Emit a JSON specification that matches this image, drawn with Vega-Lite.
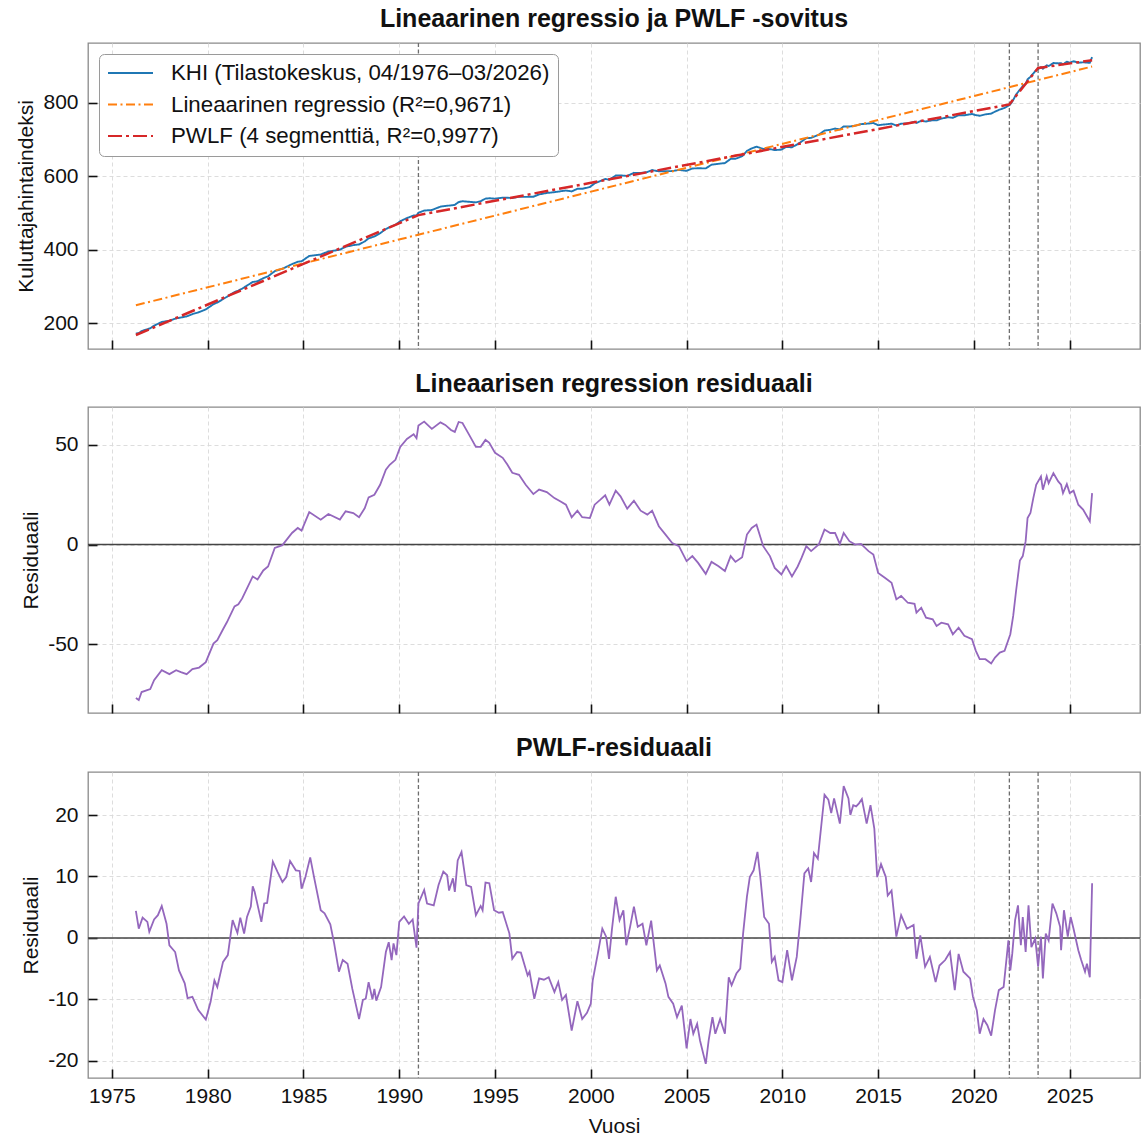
{
 "$schema": "https://vega.github.io/schema/vega-lite/v6.json",
 "padding": {"left": 15, "top": 6, "right": 2, "bottom": 2},
 "background": "white",
 "spacing": 20,
 "config": {
  "font": "Liberation Sans",
  "view": {"stroke": "#8a8a8a", "strokeWidth": 1.3},
  "axis": {"domain": false, "labelFontSize": 21, "titleFontSize": 21, "titleFontWeight": "normal", "labelColor": "#111", "titleColor": "#111", "tickColor": "#111", "tickWidth": 1.6, "tickSize": -9, "labelPadding": 19, "gridColor": "#d9d9d9", "gridDash": [4, 3], "gridWidth": 0.9},
  "axisY": {"titlePadding": 6},
  "axisX": {"titlePadding": 9, "labelPadding": 16},
  "title": {"fontSize": 25, "fontWeight": "bold", "color": "#111", "offset": 10, "anchor": "middle"},
  "legend": {"orient": "top-left", "offset": 11, "symbolType": "stroke", "symbolSize": 2025, "clipHeight": 22, "rowPadding": 8.5, "labelOffset": 17, "labelFontSize": 22.3, "labelColor": "#111", "padding": 8, "fillColor": "white", "strokeColor": "#9a9a9a", "cornerRadius": 5, "symbolStrokeWidth": 2, "labelLimit": 0}
 },
 "datasets": {
  "bp": [{"t": 1991.0}, {"t": 2021.85}, {"t": 2023.35}],
  "lr": [{"t": 1976.25, "v": 249}, {"t": 2026.17, "v": 898}],
  "pf": [{"t": 1976.25, "v": 168}, {"t": 1991.0, "v": 494}, {"t": 2021.85, "v": 795}, {"t": 2023.35, "v": 894}, {"t": 2026.17, "v": 915}],
  "khi": [{"t":1976.25,"v":172},{"t":1976.4,"v":173},{"t":1976.55,"v":178.9},{"t":1977.0,"v":186.3},{"t":1977.2,"v":193.4},{"t":1977.6,"v":203.6},{"t":1978.0,"v":206.8},{"t":1978.35,"v":213.3},{"t":1978.6,"v":215.6},{"t":1978.9,"v":218.5},{"t":1979.2,"v":224.9},{"t":1979.55,"v":230.2},{"t":1979.9,"v":237.5},{"t":1980.3,"v":252},{"t":1980.5,"v":256.3},{"t":1980.8,"v":265.7},{"t":1981.0,"v":271.8},{"t":1981.4,"v":285},{"t":1981.6,"v":288.6},{"t":1981.8,"v":294.2},{"t":1982.0,"v":300.8},{"t":1982.35,"v":312.3},{"t":1982.6,"v":314.1},{"t":1982.9,"v":322.5},{"t":1983.15,"v":327.7},{"t":1983.5,"v":341.6},{"t":1983.9,"v":348.2},{"t":1984.4,"v":360.8},{"t":1984.7,"v":367.2},{"t":1984.9,"v":368.5},{"t":1985.3,"v":383},{"t":1985.9,"v":387},{"t":1986.3,"v":395},{"t":1986.9,"v":400},{"t":1987.2,"v":408},{"t":1987.6,"v":412.4},{"t":1987.9,"v":414.2},{"t":1988.2,"v":422.7},{"t":1988.4,"v":430.7},{"t":1988.7,"v":435.9},{"t":1989.0,"v":444.8},{"t":1989.3,"v":456.2},{"t":1989.5,"v":461.3},{"t":1989.8,"v":467.7},{"t":1990.05,"v":477.4},{"t":1990.4,"v":486},{"t":1990.75,"v":492.8},{"t":1990.9,"v":492.8},{"t":1991.0,"v":500.5},{"t":1991.3,"v":506.4},{"t":1991.7,"v":507.9},{"t":1992.15,"v":517},{"t":1992.4,"v":519},{"t":1992.7,"v":520.4},{"t":1992.9,"v":522},{"t":1993.1,"v":529.6},{"t":1993.3,"v":531.7},{"t":1993.65,"v":530.2},{"t":1994.0,"v":528.8},{"t":1994.25,"v":532},{"t":1994.5,"v":538.8},{"t":1994.7,"v":539.9},{"t":1995.0,"v":538.8},{"t":1995.4,"v":541.5},{"t":1995.65,"v":541.2},{"t":1995.9,"v":540.5},{"t":1996.25,"v":544},{"t":1996.6,"v":543.6},{"t":1997.0,"v":544},{"t":1997.3,"v":550.3},{"t":1997.7,"v":554.2},{"t":1998.1,"v":556.4},{"t":1998.4,"v":558.7},{"t":1998.7,"v":560.9},{"t":1999.0,"v":558.5},{"t":1999.3,"v":565.7},{"t":1999.55,"v":565.6},{"t":1999.95,"v":570.4},{"t":2000.2,"v":580.4},{"t":2000.5,"v":586.8},{"t":2000.75,"v":592.2},{"t":2000.97,"v":590.4},{"t":2001.3,"v":601.7},{"t":2001.55,"v":602.1},{"t":2001.9,"v":600.5},{"t":2002.25,"v":609},{"t":2002.6,"v":608.6},{"t":2002.95,"v":611.1},{"t":2003.2,"v":616.4},{"t":2003.55,"v":613.1},{"t":2003.9,"v":613.5},{"t":2004.25,"v":613.8},{"t":2004.6,"v":616.8},{"t":2005.0,"v":614.5},{"t":2005.3,"v":620.9},{"t":2005.6,"v":621.4},{"t":2006.0,"v":621.1},{"t":2006.3,"v":631},{"t":2006.65,"v":633.4},{"t":2007.0,"v":635.5},{"t":2007.3,"v":646.9},{"t":2007.55,"v":647.2},{"t":2007.9,"v":654.2},{"t":2008.15,"v":668.7},{"t":2008.4,"v":675.3},{"t":2008.65,"v":680.2},{"t":2009.0,"v":674},{"t":2009.35,"v":673.5},{"t":2009.6,"v":670.9},{"t":2009.95,"v":672.1},{"t":2010.2,"v":679.6},{"t":2010.5,"v":678.3},{"t":2010.8,"v":687.2},{"t":2011.0,"v":694},{"t":2011.25,"v":703.2},{"t":2011.5,"v":704},{"t":2011.9,"v":712.5},{"t":2012.2,"v":723.9},{"t":2012.5,"v":726},{"t":2012.75,"v":729.3},{"t":2013.0,"v":727},{"t":2013.2,"v":735.2},{"t":2013.5,"v":735},{"t":2013.8,"v":737.2},{"t":2014.1,"v":741.4},{"t":2014.5,"v":743},{"t":2014.75,"v":744.5},{"t":2015.0,"v":738.6},{"t":2015.35,"v":740.6},{"t":2015.7,"v":742.7},{"t":2015.95,"v":737.6},{"t":2016.2,"v":742.6},{"t":2016.55,"v":743.7},{"t":2016.9,"v":747.8},{"t":2017.0,"v":744.6},{"t":2017.25,"v":750.3},{"t":2017.5,"v":748.6},{"t":2017.85,"v":752.3},{"t":2018.05,"v":751.6},{"t":2018.3,"v":756.5},{"t":2018.65,"v":760.2},{"t":2018.9,"v":758.5},{"t":2019.2,"v":765.7},{"t":2019.5,"v":765.5},{"t":2019.9,"v":769},{"t":2020.1,"v":765.8},{"t":2020.3,"v":764.2},{"t":2020.6,"v":768.1},{"t":2020.9,"v":769.8},{"t":2021.1,"v":775.4},{"t":2021.35,"v":781.1},{"t":2021.6,"v":785.3},{"t":2021.9,"v":795},{"t":2022.05,"v":807},{"t":2022.2,"v":822},{"t":2022.4,"v":835},{"t":2022.55,"v":845},{"t":2022.7,"v":851},{"t":2022.8,"v":863},{"t":2022.95,"v":870},{"t":2023.1,"v":879},{"t":2023.25,"v":888},{"t":2023.5,"v":896},{"t":2023.6,"v":892},{"t":2023.8,"v":901.4},{"t":2023.9,"v":899.3},{"t":2024.15,"v":907.5},{"t":2024.4,"v":906.7},{"t":2024.55,"v":906.9},{"t":2024.65,"v":904},{"t":2024.85,"v":911.1},{"t":2025.0,"v":908.6},{"t":2025.2,"v":912.4},{"t":2025.45,"v":908.6},{"t":2025.7,"v":909.4},{"t":2025.9,"v":908.7},{"t":2026.05,"v":908.1},{"t":2026.17,"v":923.8}],
  "lin": [{"t":1976.25,"v":-77},{"t":1976.4,"v":-78},{"t":1976.55,"v":-74},{"t":1977.0,"v":-72.5},{"t":1977.2,"v":-68},{"t":1977.6,"v":-63},{"t":1978.0,"v":-65},{"t":1978.35,"v":-63},{"t":1978.6,"v":-64},{"t":1978.9,"v":-65},{"t":1979.2,"v":-62.5},{"t":1979.55,"v":-61.7},{"t":1979.9,"v":-59},{"t":1980.3,"v":-49.7},{"t":1980.5,"v":-48},{"t":1980.8,"v":-42.5},{"t":1981.0,"v":-39},{"t":1981.4,"v":-31},{"t":1981.6,"v":-30},{"t":1981.8,"v":-27},{"t":1982.0,"v":-23},{"t":1982.35,"v":-16},{"t":1982.6,"v":-17.5},{"t":1982.9,"v":-13},{"t":1983.15,"v":-11},{"t":1983.5,"v":-1.7},{"t":1983.9,"v":-0.3},{"t":1984.4,"v":5.8},{"t":1984.7,"v":8.3},{"t":1984.9,"v":7},{"t":1985.3,"v":16.3},{"t":1985.9,"v":12.5},{"t":1986.3,"v":15.3},{"t":1986.9,"v":12.5},{"t":1987.2,"v":16.7},{"t":1987.6,"v":15.8},{"t":1987.9,"v":13.7},{"t":1988.2,"v":18.3},{"t":1988.4,"v":23.7},{"t":1988.7,"v":25},{"t":1989.0,"v":30},{"t":1989.3,"v":37.5},{"t":1989.5,"v":40},{"t":1989.8,"v":42.5},{"t":1990.05,"v":49},{"t":1990.4,"v":53},{"t":1990.75,"v":55.3},{"t":1990.9,"v":53.3},{"t":1991.0,"v":59.7},{"t":1991.3,"v":61.7},{"t":1991.7,"v":58},{"t":1992.15,"v":61.3},{"t":1992.4,"v":60},{"t":1992.7,"v":57.5},{"t":1992.9,"v":56.5},{"t":1993.1,"v":61.5},{"t":1993.3,"v":61},{"t":1993.65,"v":55},{"t":1994.0,"v":49},{"t":1994.25,"v":49},{"t":1994.5,"v":52.5},{"t":1994.7,"v":51},{"t":1995.0,"v":46},{"t":1995.4,"v":43.5},{"t":1995.65,"v":40},{"t":1995.9,"v":36},{"t":1996.25,"v":35},{"t":1996.6,"v":30},{"t":1997.0,"v":25.3},{"t":1997.3,"v":27.6},{"t":1997.7,"v":26.3},{"t":1998.1,"v":23.3},{"t":1998.4,"v":21.7},{"t":1998.7,"v":20},{"t":1999.0,"v":13.7},{"t":1999.3,"v":17},{"t":1999.55,"v":13.7},{"t":1999.95,"v":13.3},{"t":2000.2,"v":20},{"t":2000.5,"v":22.5},{"t":2000.75,"v":24.7},{"t":2000.97,"v":20},{"t":2001.3,"v":27},{"t":2001.55,"v":24.2},{"t":2001.9,"v":18},{"t":2002.25,"v":22},{"t":2002.6,"v":17},{"t":2002.95,"v":15},{"t":2003.2,"v":17},{"t":2003.55,"v":9.2},{"t":2003.9,"v":5},{"t":2004.25,"v":0.8},{"t":2004.6,"v":-0.8},{"t":2005.0,"v":-8.3},{"t":2005.3,"v":-5.8},{"t":2005.6,"v":-9.2},{"t":2006.0,"v":-14.7},{"t":2006.3,"v":-8.7},{"t":2006.65,"v":-10.8},{"t":2007.0,"v":-13.3},{"t":2007.3,"v":-5.8},{"t":2007.55,"v":-8.7},{"t":2007.9,"v":-6.3},{"t":2008.15,"v":5},{"t":2008.4,"v":8.3},{"t":2008.65,"v":10},{"t":2009.0,"v":-0.8},{"t":2009.35,"v":-5.8},{"t":2009.6,"v":-11.7},{"t":2009.95,"v":-15},{"t":2010.2,"v":-10.8},{"t":2010.5,"v":-16},{"t":2010.8,"v":-11},{"t":2011.0,"v":-6.7},{"t":2011.25,"v":-0.8},{"t":2011.5,"v":-3.3},{"t":2011.9,"v":0},{"t":2012.2,"v":7.5},{"t":2012.5,"v":5.8},{"t":2012.75,"v":5.8},{"t":2013.0,"v":0.3},{"t":2013.2,"v":5.8},{"t":2013.5,"v":1.7},{"t":2013.8,"v":0},{"t":2014.1,"v":0.3},{"t":2014.5,"v":-3.3},{"t":2014.75,"v":-5},{"t":2015.0,"v":-14.2},{"t":2015.35,"v":-16.7},{"t":2015.7,"v":-19.2},{"t":2015.95,"v":-27.5},{"t":2016.2,"v":-25.8},{"t":2016.55,"v":-29.2},{"t":2016.9,"v":-29.7},{"t":2017.0,"v":-34.2},{"t":2017.25,"v":-31.7},{"t":2017.5,"v":-36.7},{"t":2017.85,"v":-37.5},{"t":2018.05,"v":-40.8},{"t":2018.3,"v":-39.2},{"t":2018.65,"v":-40},{"t":2018.9,"v":-45},{"t":2019.2,"v":-41.7},{"t":2019.5,"v":-45.8},{"t":2019.9,"v":-47.5},{"t":2020.1,"v":-53.3},{"t":2020.3,"v":-57.5},{"t":2020.6,"v":-57.5},{"t":2020.9,"v":-59.7},{"t":2021.1,"v":-56.7},{"t":2021.35,"v":-54.2},{"t":2021.6,"v":-53.3},{"t":2021.9,"v":-45},{"t":2022.05,"v":-35.8},{"t":2022.2,"v":-23.3},{"t":2022.4,"v":-8},{"t":2022.55,"v":-5.8},{"t":2022.7,"v":1.7},{"t":2022.8,"v":13.3},{"t":2022.95,"v":15.8},{"t":2023.1,"v":23.3},{"t":2023.25,"v":30},{"t":2023.5,"v":34.2},{"t":2023.6,"v":27.5},{"t":2023.8,"v":34.2},{"t":2023.9,"v":30.8},{"t":2024.15,"v":35.8},{"t":2024.4,"v":31.7},{"t":2024.55,"v":30},{"t":2024.65,"v":25.8},{"t":2024.85,"v":30.3},{"t":2025.0,"v":25.8},{"t":2025.2,"v":27},{"t":2025.45,"v":20},{"t":2025.7,"v":17.5},{"t":2025.9,"v":14.2},{"t":2026.05,"v":11.7},{"t":2026.17,"v":25.8}],
  "pw": [{"t":1976.25,"v":4.4},{"t":1976.4,"v":1.5},{"t":1976.6,"v":3.3},{"t":1976.85,"v":2.6},{"t":1976.95,"v":1},{"t":1977.2,"v":3},{"t":1977.4,"v":3.7},{"t":1977.6,"v":5.2},{"t":1977.85,"v":2.3},{"t":1978.0,"v":-1.2},{"t":1978.3,"v":-2.3},{"t":1978.5,"v":-5.3},{"t":1978.8,"v":-7.4},{"t":1978.95,"v":-9.8},{"t":1979.2,"v":-9.6},{"t":1979.5,"v":-11.7},{"t":1979.9,"v":-13.3},{"t":1980.15,"v":-10.4},{"t":1980.35,"v":-6.9},{"t":1980.5,"v":-8},{"t":1980.8,"v":-3.9},{"t":1981.05,"v":-2.8},{"t":1981.3,"v":2.9},{"t":1981.55,"v":0.8},{"t":1981.7,"v":3.3},{"t":1981.9,"v":0.7},{"t":1982.05,"v":3.4},{"t":1982.25,"v":5.1},{"t":1982.35,"v":8.4},{"t":1982.45,"v":7.5},{"t":1982.8,"v":2.6},{"t":1982.95,"v":5.6},{"t":1983.1,"v":5.7},{"t":1983.4,"v":12.4},{"t":1983.65,"v":10.7},{"t":1983.9,"v":9.1},{"t":1984.1,"v":9.9},{"t":1984.3,"v":12.5},{"t":1984.6,"v":11},{"t":1984.8,"v":10.9},{"t":1984.9,"v":8},{"t":1985.1,"v":9.9},{"t":1985.35,"v":13.1},{"t":1985.55,"v":9.9},{"t":1985.9,"v":4.5},{"t":1986.1,"v":4},{"t":1986.4,"v":2.2},{"t":1986.6,"v":-0.9},{"t":1986.85,"v":-5.5},{"t":1987.05,"v":-3.6},{"t":1987.3,"v":-4.2},{"t":1987.55,"v":-8.3},{"t":1987.9,"v":-13.2},{"t":1988.1,"v":-10.1},{"t":1988.25,"v":-9.9},{"t":1988.4,"v":-7.2},{"t":1988.6,"v":-10},{"t":1988.7,"v":-8.3},{"t":1988.8,"v":-10.2},{"t":1989.05,"v":-8},{"t":1989.3,"v":-2.3},{"t":1989.45,"v":-0.7},{"t":1989.6,"v":-3.6},{"t":1989.7,"v":-0.9},{"t":1989.85,"v":-2.8},{"t":1990.0,"v":2.6},{"t":1990.25,"v":3.5},{"t":1990.5,"v":2.3},{"t":1990.7,"v":3},{"t":1990.9,"v":-1.6},{"t":1991.0,"v":5.6},{"t":1991.3,"v":7.8},{"t":1991.45,"v":5.6},{"t":1991.8,"v":5.3},{"t":1992.05,"v":8.6},{"t":1992.3,"v":10.8},{"t":1992.5,"v":10.2},{"t":1992.6,"v":7.7},{"t":1992.8,"v":9.7},{"t":1992.9,"v":7.5},{"t":1993.05,"v":12.6},{"t":1993.25,"v":14},{"t":1993.5,"v":8.6},{"t":1993.75,"v":8.3},{"t":1994.0,"v":3.7},{"t":1994.25,"v":5.2},{"t":1994.35,"v":4.5},{"t":1994.5,"v":9},{"t":1994.7,"v":8.9},{"t":1994.95,"v":4.5},{"t":1995.2,"v":4.1},{"t":1995.4,"v":4.2},{"t":1995.75,"v":0.7},{"t":1995.9,"v":-3.4},{"t":1996.15,"v":-2.3},{"t":1996.35,"v":-2.4},{"t":1996.7,"v":-6.1},{"t":1996.8,"v":-5.5},{"t":1997.05,"v":-9.9},{"t":1997.3,"v":-6.6},{"t":1997.55,"v":-6.8},{"t":1997.8,"v":-6.4},{"t":1998.1,"v":-8.8},{"t":1998.3,"v":-7.2},{"t":1998.5,"v":-10.1},{"t":1998.7,"v":-9.3},{"t":1999.0,"v":-15.1},{"t":1999.3,"v":-10.3},{"t":1999.55,"v":-13.2},{"t":1999.8,"v":-12.2},{"t":2000.0,"v":-10.7},{"t":2000.1,"v":-6.9},{"t":2000.4,"v":-2},{"t":2000.6,"v":1.5},{"t":2000.8,"v":0.2},{"t":2000.95,"v":-3.4},{"t":2001.1,"v":1.3},{"t":2001.3,"v":6.7},{"t":2001.5,"v":2.9},{"t":2001.7,"v":4.5},{"t":2001.85,"v":-1.2},{"t":2002.05,"v":1.8},{"t":2002.25,"v":5.1},{"t":2002.45,"v":1.8},{"t":2002.7,"v":2.3},{"t":2002.9,"v":-1.2},{"t":2003.15,"v":2.8},{"t":2003.45,"v":-5.3},{"t":2003.6,"v":-4.5},{"t":2003.9,"v":-7.4},{"t":2004.05,"v":-9.6},{"t":2004.3,"v":-10.7},{"t":2004.5,"v":-12.9},{"t":2004.75,"v":-11},{"t":2005.0,"v":-18},{"t":2005.2,"v":-13.2},{"t":2005.35,"v":-15.6},{"t":2005.55,"v":-14},{"t":2005.7,"v":-16.7},{"t":2006.0,"v":-20.5},{"t":2006.15,"v":-16.7},{"t":2006.35,"v":-12.9},{"t":2006.5,"v":-15.6},{"t":2006.75,"v":-13.2},{"t":2007.0,"v":-15.6},{"t":2007.2,"v":-6.4},{"t":2007.35,"v":-7.7},{"t":2007.6,"v":-5.8},{"t":2007.8,"v":-5},{"t":2007.95,"v":0.7},{"t":2008.15,"v":6.7},{"t":2008.3,"v":9.9},{"t":2008.5,"v":11},{"t":2008.7,"v":14},{"t":2008.85,"v":9.9},{"t":2009.05,"v":3.4},{"t":2009.3,"v":2.3},{"t":2009.45,"v":-3.9},{"t":2009.6,"v":-3.1},{"t":2009.8,"v":-6.9},{"t":2010.0,"v":-7.2},{"t":2010.25,"v":-2},{"t":2010.5,"v":-6.9},{"t":2010.75,"v":-3.1},{"t":2010.95,"v":3.4},{"t":2011.15,"v":10.5},{"t":2011.35,"v":11.3},{"t":2011.5,"v":9.1},{"t":2011.65,"v":13.8},{"t":2011.85,"v":12.9},{"t":2012.2,"v":23.3},{"t":2012.4,"v":22.5},{"t":2012.55,"v":20.3},{"t":2012.7,"v":22.7},{"t":2013.0,"v":18.6},{"t":2013.2,"v":24.7},{"t":2013.45,"v":22.7},{"t":2013.55,"v":20},{"t":2013.7,"v":21.6},{"t":2013.85,"v":21.4},{"t":2014.0,"v":21.9},{"t":2014.15,"v":22.6},{"t":2014.4,"v":18.6},{"t":2014.6,"v":21.6},{"t":2014.8,"v":17.8},{"t":2014.95,"v":9.9},{"t":2015.15,"v":12},{"t":2015.4,"v":9.9},{"t":2015.5,"v":6.9},{"t":2015.7,"v":7.7},{"t":2015.95,"v":0.2},{"t":2016.2,"v":3.7},{"t":2016.5,"v":1.5},{"t":2016.85,"v":2.1},{"t":2017.0,"v":-3.4},{"t":2017.2,"v":0.4},{"t":2017.45,"v":-4.7},{"t":2017.7,"v":-3.1},{"t":2018.0,"v":-7.2},{"t":2018.2,"v":-4.5},{"t":2018.5,"v":-3.6},{"t":2018.75,"v":-2.3},{"t":2019.0,"v":-8.5},{"t":2019.2,"v":-2.6},{"t":2019.45,"v":-5.5},{"t":2019.8,"v":-6.6},{"t":2019.95,"v":-9.6},{"t":2020.15,"v":-11.8},{"t":2020.3,"v":-15.6},{"t":2020.5,"v":-13.2},{"t":2020.7,"v":-14.2},{"t":2020.9,"v":-15.9},{"t":2021.1,"v":-11.8},{"t":2021.3,"v":-8.5},{"t":2021.55,"v":-8},{"t":2021.8,"v":-0.4},{"t":2021.9,"v":-5.3},{"t":2022.0,"v":-2.6},{"t":2022.15,"v":2.9},{"t":2022.3,"v":5.3},{"t":2022.45,"v":-1.2},{"t":2022.55,"v":3.4},{"t":2022.7,"v":-2.3},{"t":2022.85,"v":5.3},{"t":2023.0,"v":-1.5},{"t":2023.2,"v":-0.1},{"t":2023.35,"v":-4.7},{"t":2023.5,"v":0.2},{"t":2023.6,"v":-6.6},{"t":2023.75,"v":0.7},{"t":2023.9,"v":-0.4},{"t":2024.1,"v":5.6},{"t":2024.3,"v":4},{"t":2024.5,"v":1.8},{"t":2024.55,"v":-2},{"t":2024.7,"v":4.5},{"t":2024.9,"v":0.2},{"t":2025.05,"v":3.4},{"t":2025.2,"v":1.5},{"t":2025.45,"v":-2},{"t":2025.6,"v":-3.6},{"t":2025.8,"v":-5.5},{"t":2025.9,"v":-4.2},{"t":2026.05,"v":-6.4},{"t":2026.17,"v":8.9}]
 },
 "vconcat": [
  {
   "width": 1052, "height": 306,
   "title": "Lineaarinen regressio ja PWLF -sovitus",
   "layer": [
    {"data": {"name": "bp"}, "mark": {"type": "rule", "color": "#6e6e6e", "strokeDash": [4, 2.5], "strokeWidth": 1.3},
     "encoding": {"x": {"field": "t", "type": "quantitative", "scale": {"domain": [1973.75, 2028.67], "nice": false, "zero": false}, "axis": {"values": [1975,1980,1985,1990,1995,2000,2005,2010,2015,2020,2025], "labels": false, "title": null}}}},
    {"data": {"name": "khi"}, "mark": {"type": "line", "strokeWidth": 1.9},
     "encoding": {
      "x": {"field": "t", "type": "quantitative", "scale": {"domain": [1973.75, 2028.67], "nice": false, "zero": false}, "axis": {"values": [1975,1980,1985,1990,1995,2000,2005,2010,2015,2020,2025], "labels": false, "title": null}},
      "y": {"field": "v", "type": "quantitative", "scale": {"domain": [130, 962], "nice": false, "zero": false}, "axis": {"values": [200, 400, 600, 800], "title": "Kuluttajahintaindeksi", "labelExpr": "'' + datum.value"}},
      "color": {"datum": "KHI (Tilastokeskus, 04/1976–03/2026)", "scale": {"domain": ["KHI (Tilastokeskus, 04/1976–03/2026)", "Lineaarinen regressio (R²=0,9671)", "PWLF (4 segmenttiä, R²=0,9977)"], "range": ["#1f77b4", "#ff7f0e", "#d62728"]}, "legend": {"title": null}},
      "strokeDash": {"datum": "KHI (Tilastokeskus, 04/1976–03/2026)", "scale": {"domain": ["KHI (Tilastokeskus, 04/1976–03/2026)", "Lineaarinen regressio (R²=0,9671)", "PWLF (4 segmenttiä, R²=0,9977)"], "range": [[1, 0], [9, 3.5, 2, 3.5], [14, 4, 3, 4]]}, "legend": {"title": null}}
     }},
    {"data": {"name": "lr"}, "mark": {"type": "line", "strokeWidth": 2},
     "encoding": {
      "x": {"field": "t", "type": "quantitative", "scale": {"domain": [1973.75, 2028.67], "nice": false, "zero": false}, "axis": {"values": [1975,1980,1985,1990,1995,2000,2005,2010,2015,2020,2025], "labels": false, "title": null}},
      "y": {"field": "v", "type": "quantitative", "scale": {"domain": [130, 962], "nice": false, "zero": false}, "axis": {"values": [200, 400, 600, 800], "title": "Kuluttajahintaindeksi", "labelExpr": "'' + datum.value"}},
      "color": {"datum": "Lineaarinen regressio (R²=0,9671)", "scale": {"domain": ["KHI (Tilastokeskus, 04/1976–03/2026)", "Lineaarinen regressio (R²=0,9671)", "PWLF (4 segmenttiä, R²=0,9977)"], "range": ["#1f77b4", "#ff7f0e", "#d62728"]}, "legend": {"title": null}},
      "strokeDash": {"datum": "Lineaarinen regressio (R²=0,9671)", "scale": {"domain": ["KHI (Tilastokeskus, 04/1976–03/2026)", "Lineaarinen regressio (R²=0,9671)", "PWLF (4 segmenttiä, R²=0,9977)"], "range": [[1, 0], [9, 3.5, 2, 3.5], [14, 4, 3, 4]]}, "legend": {"title": null}}
     }},
    {"data": {"name": "pf"}, "mark": {"type": "line", "strokeWidth": 2.5},
     "encoding": {
      "x": {"field": "t", "type": "quantitative", "scale": {"domain": [1973.75, 2028.67], "nice": false, "zero": false}, "axis": {"values": [1975,1980,1985,1990,1995,2000,2005,2010,2015,2020,2025], "labels": false, "title": null}},
      "y": {"field": "v", "type": "quantitative", "scale": {"domain": [130, 962], "nice": false, "zero": false}, "axis": {"values": [200, 400, 600, 800], "title": "Kuluttajahintaindeksi", "labelExpr": "'' + datum.value"}},
      "color": {"datum": "PWLF (4 segmenttiä, R²=0,9977)", "scale": {"domain": ["KHI (Tilastokeskus, 04/1976–03/2026)", "Lineaarinen regressio (R²=0,9671)", "PWLF (4 segmenttiä, R²=0,9977)"], "range": ["#1f77b4", "#ff7f0e", "#d62728"]}, "legend": {"title": null}},
      "strokeDash": {"datum": "PWLF (4 segmenttiä, R²=0,9977)", "scale": {"domain": ["KHI (Tilastokeskus, 04/1976–03/2026)", "Lineaarinen regressio (R²=0,9671)", "PWLF (4 segmenttiä, R²=0,9977)"], "range": [[1, 0], [9, 3.5, 2, 3.5], [14, 4, 3, 4]]}, "legend": {"title": null}}
     }}
   ]
  },
  {
   "width": 1052, "height": 306,
   "title": "Lineaarisen regression residuaali",
   "layer": [
    {"data": {"values": [{"z": 0}]}, "mark": {"type": "rule", "color": "#444", "strokeWidth": 1.5},
     "encoding": {"y": {"field": "z", "type": "quantitative", "scale": {"domain": [-84.5, 69], "nice": false, "zero": false}, "axis": {"values": [-50, 0, 50], "title": "Residuaali", "labelExpr": "'' + datum.value"}}}},
    {"data": {"name": "lin"}, "mark": {"type": "line", "color": "#9467bd", "strokeWidth": 1.8},
     "encoding": {
      "x": {"field": "t", "type": "quantitative", "scale": {"domain": [1973.75, 2028.67], "nice": false, "zero": false}, "axis": {"values": [1975,1980,1985,1990,1995,2000,2005,2010,2015,2020,2025], "labels": false, "title": null}},
      "y": {"field": "v", "type": "quantitative", "scale": {"domain": [-84.5, 69], "nice": false, "zero": false}, "axis": {"values": [-50, 0, 50], "title": "Residuaali", "labelExpr": "'' + datum.value"}}
     }}
   ]
  },
  {
   "width": 1052, "height": 306,
   "title": "PWLF-residuaali",
   "layer": [
    {"data": {"values": [{"z": 0}]}, "mark": {"type": "rule", "color": "#444", "strokeWidth": 1.5},
     "encoding": {"y": {"field": "z", "type": "quantitative", "scale": {"domain": [-22.8, 27], "nice": false, "zero": false}, "axis": {"values": [-20, -10, 0, 10, 20], "title": "Residuaali", "labelExpr": "'' + datum.value"}}}},
    {"data": {"name": "bp"}, "mark": {"type": "rule", "color": "#6e6e6e", "strokeDash": [4, 2.5], "strokeWidth": 1.3},
     "encoding": {"x": {"field": "t", "type": "quantitative", "scale": {"domain": [1973.75, 2028.67], "nice": false, "zero": false}, "axis": {"values": [1975,1980,1985,1990,1995,2000,2005,2010,2015,2020,2025], "format": "d", "title": "Vuosi"}}}},
    {"data": {"name": "pw"}, "mark": {"type": "line", "color": "#9467bd", "strokeWidth": 1.8},
     "encoding": {
      "x": {"field": "t", "type": "quantitative", "scale": {"domain": [1973.75, 2028.67], "nice": false, "zero": false}, "axis": {"values": [1975,1980,1985,1990,1995,2000,2005,2010,2015,2020,2025], "format": "d", "title": "Vuosi"}},
      "y": {"field": "v", "type": "quantitative", "scale": {"domain": [-22.8, 27], "nice": false, "zero": false}, "axis": {"values": [-20, -10, 0, 10, 20], "title": "Residuaali", "labelExpr": "'' + datum.value"}}
     }}
   ]
  }
 ]
}
